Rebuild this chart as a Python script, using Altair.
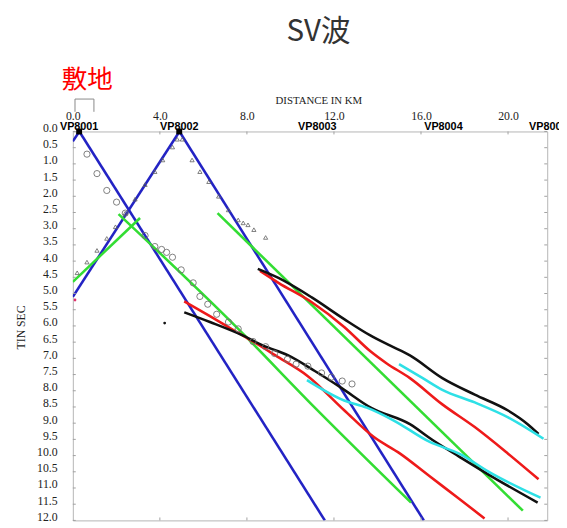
import altair as alt
import pandas as pd

# ---------------- data ----------------
x_ticks = [0, 4, 8, 12, 16, 20]
x_inner_ticks = [4, 8, 12, 16, 20]
y_ticks = [0.0, 0.5, 1.0, 1.5, 2.0, 2.5, 3.0, 3.5, 4.0, 4.5, 5.0, 5.5, 6.0,
           6.5, 7.0, 7.5, 8.0, 8.5, 9.0, 9.5, 10.0, 10.5, 11.0, 11.5, 12.0]

vp_names = ["VP8001", "VP8002", "VP8003", "VP8004", "VP8005"]
vp_x = [0.29, 4.89, 11.23, 17.03, 21.85]
vp_marker_x = [0.29, 4.89]

site_x = [0.10, 0.97]

# lines (distance km, time s)
b1_x = [0.30, 0.00];  b1_t = [0.00, 0.30]
b2_x = [0.30, 11.58]; b2_t = [0.00, 12.00]
b3_x = [0.00, 4.90];  b3_t = [5.10, 0.00]
b4_x = [4.90, 16.13]; b4_t = [0.00, 12.00]

g1_x = [0.00, 3.09]; g1_t = [4.64, 2.67]
g2_x = [2.10, 7.60, 11.12, 15.54]; g2_t = [2.55, 6.09, 8.52, 11.45]
g3_x = [6.65, 20.68]; g3_t = [2.52, 11.70]

r1_x = [5.12, 6.30, 7.51, 8.28, 9.31, 10.80, 12.47, 13.82, 15.04, 16.40, 17.75, 18.92]
r1_t = [5.24, 5.70, 6.18, 6.48, 6.91, 7.55, 8.60, 9.42, 9.94, 10.64, 11.33, 11.94]
r2_x = [8.60, 9.45, 10.98, 12.47, 13.69, 14.41, 15.49, 16.98, 18.47, 20.00, 21.40]
r2_t = [4.30, 4.67, 5.27, 6.03, 6.79, 7.15, 7.61, 8.42, 9.12, 9.94, 10.73]

k1_x = [8.50, 9.45, 10.98, 12.47, 13.69, 14.59, 15.49, 16.98, 18.47, 20.00, 20.90, 21.40]
k1_t = [4.24, 4.52, 5.12, 5.79, 6.30, 6.61, 6.91, 7.61, 8.12, 8.61, 9.03, 9.33]
k2_x = [5.12, 6.30, 7.83, 8.73, 9.90, 11.12, 12.34, 13.69, 15.49, 16.53, 17.75, 19.24, 21.36]
k2_t = [5.58, 5.88, 6.30, 6.60, 6.91, 7.39, 7.91, 8.52, 9.03, 9.52, 10.03, 10.64, 11.45]

c1_x = [10.76, 12.47, 13.51, 14.73, 16.40, 17.75, 19.24, 21.49]
c1_t = [7.67, 8.30, 8.52, 8.91, 9.58, 9.94, 10.55, 11.30]
c2_x = [14.99, 16.08, 16.98, 18.47, 20.00, 21.63]
c2_t = [7.18, 7.61, 7.97, 8.36, 8.82, 9.48]

line_ids = ["b1", "b2", "b3", "b4", "g1", "g2", "g3", "r1", "r2", "k1", "k2", "c1", "c2"]
line_colors = ["#2323c4", "#2323c4", "#2323c4", "#2323c4",
               "#33dd33", "#33dd33", "#33dd33",
               "#ee1a1a", "#ee1a1a", "#111111", "#111111",
               "#2ee0e6", "#2ee0e6"]
line_xs = [b1_x, b2_x, b3_x, b4_x, g1_x, g2_x, g3_x, r1_x, r2_x, k1_x, k2_x, c1_x, c2_x]
line_ts = [b1_t, b2_t, b3_t, b4_t, g1_t, g2_t, g3_t, r1_t, r2_t, k1_t, k2_t, c1_t, c2_t]

circle_x = [0.65, 1.11, 1.56, 2.01, 2.41, 3.32, 3.77, 4.08, 4.31, 4.58, 4.98, 5.53,
            5.84, 6.20, 6.61, 7.15, 7.60, 8.28, 8.86, 9.27, 9.86, 10.26, 10.80,
            11.43, 11.88, 12.38, 12.83]
circle_t = [0.70, 1.30, 1.82, 2.18, 2.52, 3.21, 3.55, 3.64, 3.73, 3.88, 4.27, 4.67,
            5.09, 5.33, 5.64, 5.88, 6.09, 6.48, 6.64, 6.85, 7.03, 7.18, 7.24,
            7.45, 7.58, 7.70, 7.79]

tri_x = [0.20, 0.65, 1.11, 1.56, 1.96, 2.41, 2.86, 3.32, 3.77, 4.13, 4.58, 4.80,
         5.03, 5.48, 5.84, 6.25, 6.70, 7.15, 7.60, 7.83, 8.05, 8.32, 8.86]
tri_t = [4.36, 4.03, 3.67, 3.30, 2.94, 2.52, 2.09, 1.64, 1.24, 0.88, 0.48, 0.24,
         0.24, 0.88, 1.24, 1.55, 2.00, 2.42, 2.73, 2.82, 2.88, 3.03, 3.27]

dot_x = [4.22]; dot_t = [5.91]
red_dot_x = [0.10]; red_dot_t = [5.20]

# ---------------- frames ----------------
rows = []
for lid, xs, ts in zip(line_ids, line_xs, line_ts):
    for i, (xv, tv) in enumerate(zip(xs, ts)):
        rows.append({"id": lid, "x": xv, "t": tv, "o": i})
lines_df = pd.DataFrame(rows)

W, H = 483, 396
SERIF = "Liberation Serif"

x_scale = alt.Scale(domain=[0, 21.8], nice=False, zero=False)
y_scale = alt.Scale(domain=[0, 12], reverse=True, nice=False, zero=False)

x_axis = alt.Axis(orient="top", values=x_ticks, format=".1f", title="DISTANCE IN KM",
                  titleFont=SERIF, titleFontSize=11, titleFontWeight="normal",
                  titleColor="#222", titleX=250, titleY=-28, titleBaseline="alphabetic",
                  titleAlign="center",
                  labelFont=SERIF, labelFontSize=12, labelColor="#222",
                  labelBaseline="alphabetic", labelPadding=12, labelFlush=False,
                  labelOverlap=False, ticks=False, domain=False, grid=False)
y_axis = alt.Axis(orient="left", values=y_ticks, format=".1f", title="TIN SEC",
                  titleFont=SERIF, titleFontSize=12, titleFontWeight="normal",
                  titleColor="#222", titleX=-53, titleY=199, titleAngle=270,
                  titleBaseline="middle", titleAlign="center",
                  labelFont=SERIF, labelFontSize=12, labelColor="#222",
                  labelBaseline="alphabetic", labelPadding=16, labelFlush=False,
                  labelOverlap=False, ticks=False, domain=False, grid=False)

x_enc = alt.X("x:Q", scale=x_scale, axis=x_axis)
y_enc = alt.Y("t:Q", scale=y_scale, axis=y_axis)

lines = alt.Chart(lines_df).mark_line(strokeWidth=2.6, clip=True, interpolate="monotone").encode(
    x=x_enc, y=y_enc,
    color=alt.Color("id:N", scale=alt.Scale(domain=line_ids, range=line_colors), legend=None),
    detail="id:N", order="o:Q")

circles = alt.Chart(pd.DataFrame({"x": circle_x, "t": circle_t})).mark_point(
    shape="circle", filled=False, size=40, color="#707070", strokeWidth=0.9, opacity=1).encode(
    x=x_enc, y=y_enc)

tris = alt.Chart(pd.DataFrame({"x": tri_x, "t": tri_t})).mark_point(
    shape="triangle-up", filled=False, size=18, color="#606060", strokeWidth=0.8, opacity=1).encode(
    x=x_enc, y=y_enc)

dots = alt.Chart(pd.DataFrame({"x": dot_x, "t": dot_t})).mark_point(
    shape="circle", filled=True, size=8, color="#111", opacity=1).encode(x=x_enc, y=y_enc)
red_dots = alt.Chart(pd.DataFrame({"x": red_dot_x, "t": red_dot_t})).mark_point(
    shape="circle", filled=True, size=8, color="#e0306a", opacity=1).encode(x=x_enc, y=y_enc)

vp_marks = alt.Chart(pd.DataFrame({"x": vp_marker_x, "t": [0.0] * len(vp_marker_x)})).mark_point(
    shape="square", filled=True, size=36, color="#000", opacity=1).encode(x=x_enc, y=y_enc)

vp_text = alt.Chart(pd.DataFrame({"x": vp_x, "name": vp_names})).mark_text(
    font="Liberation Sans", fontWeight="bold", fontSize=11, baseline="alphabetic",
    dy=-1, color="#000").encode(x=x_enc, y=alt.value(0), text="name:N")

yt_df = pd.DataFrame({"t": y_ticks})
xt_df = pd.DataFrame({"x": x_inner_ticks})
tick_col = "#a0a0a0"
left_ticks = alt.Chart(yt_df).mark_rule(color=tick_col, strokeWidth=1).encode(
    y=y_enc, x=alt.value(0), x2=alt.value(3))
right_ticks = alt.Chart(yt_df).mark_rule(color=tick_col, strokeWidth=1).encode(
    y=y_enc, x=alt.value(W - 3), x2=alt.value(W))
top_ticks = alt.Chart(xt_df).mark_rule(color=tick_col, strokeWidth=1).encode(
    x=x_enc, y=alt.value(0), y2=alt.value(3))
bottom_ticks = alt.Chart(xt_df).mark_rule(color=tick_col, strokeWidth=1).encode(
    x=x_enc, y=alt.value(H - 3), y2=alt.value(H))

bracket_h = alt.Chart(pd.DataFrame({"x": [site_x[0]], "x2": [site_x[1]]})).mark_rule(
    color="#888", strokeWidth=1).encode(x=x_enc, x2="x2:Q", y=alt.value(-33))
bracket_v = alt.Chart(pd.DataFrame({"x": site_x})).mark_rule(
    color="#888", strokeWidth=1).encode(x=x_enc, y=alt.value(-33), y2=alt.value(-20))

site_label = alt.Chart(pd.DataFrame({"x": [0.66], "label": ["敷地"]})).mark_text(
    font="Noto Sans CJK JP", fontSize=26, color="#ff0000", baseline="middle").encode(
    x=x_enc, y=alt.value(-52), text="label:N")

title = alt.Chart(pd.DataFrame({"label": ["SV波"]})).mark_text(
    font="Noto Sans CJK JP", fontSize=30, color="#333", baseline="middle").encode(
    x=alt.value(250), y=alt.value(-101), text="label:N")

chart = alt.layer(
    lines, circles, tris, dots, red_dots, vp_marks, vp_text,
    left_ticks, right_ticks, top_ticks, bottom_ticks,
    bracket_h, bracket_v, site_label, title
).properties(
    width=W, height=H,
    autosize=alt.AutoSizeParams(type="none"),
    padding={"left": 66, "top": 121, "right": 12, "bottom": 2},
).configure_view(stroke="#b5b5b5", strokeWidth=1)

chart.save("out.html", embed_options={"renderer": "svg", "actions": False})
